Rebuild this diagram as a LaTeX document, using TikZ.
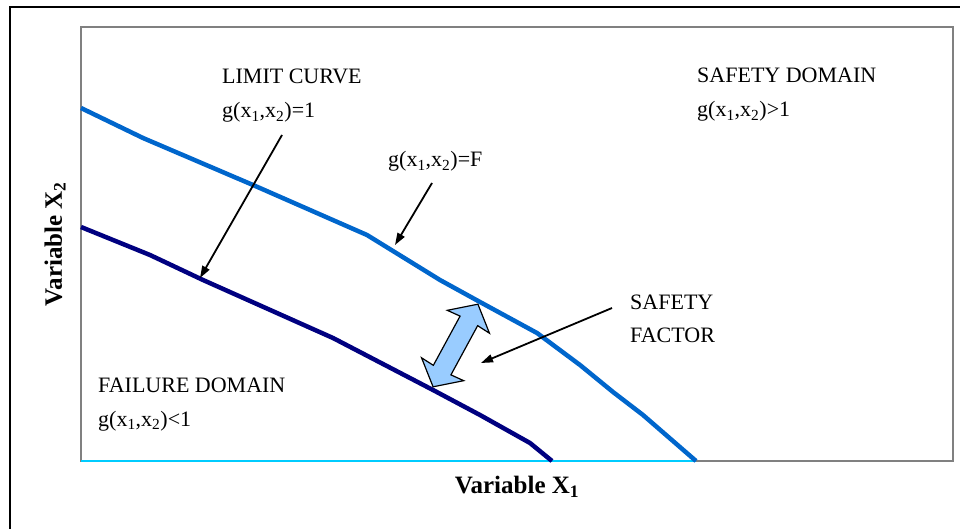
\documentclass[tikz,border=0pt]{standalone}
\usepackage{fontspec}
\setmainfont{Liberation Serif}
\usetikzlibrary{arrows.meta,positioning}
\definecolor{curvelight}{RGB}{0,102,204}
\definecolor{curvedark}{RGB}{0,0,128}
\definecolor{axiscyan}{RGB}{0,204,255}
\definecolor{sfblue}{RGB}{153,204,255}
\definecolor{framegray}{RGB}{128,128,128}
\newcommand{\gfun}{g(x\textsubscript{1},x\textsubscript{2})}

\begin{document}
\begin{tikzpicture}[x=1pt, y=-1pt, >={Triangle[length=12pt,width=8pt]},
  lbl/.style={anchor=base west, inner sep=0pt, font=\fontsize{22}{26}\selectfont},
  axlbl/.style={inner sep=0pt, font=\fontsize{25}{29}\selectfont\bfseries},
  pointer/.style={->, line width=1.8pt},
  curve/.style={line width=4.5pt, line join=round}]
\useasboundingbox (0,0) rectangle (960,529);
% frames
\draw[line width=1.2pt] (10,529) -- (10,7) -- (960,7);
\draw[framegray, line width=1.5pt] (81,27) rectangle (953,461);
\draw[axiscyan, line width=1.5pt] (81,461) -- (696,461);
% curves
\draw[curve, curvelight] (81,108) -- (143,138) -- (253,185) -- (367,235) -- (440,280)
  -- (480,302) -- (537,333) -- (580,365) -- (613,392) -- (643,415) -- (696,461);
\draw[curve, curvedark] (81,227) -- (150,255) -- (203,280) -- (333,338) -- (433,390)
  -- (480,415) -- (530,443) -- (552,461);
% axis titles
\node[axlbl] (xlab) at (517,487) {Variable X\textsubscript{1}};
\node[axlbl, rotate=90] (ylab) at (55,244) {Variable X\textsubscript{2}};
% labels
\node[lbl] (limit) at (222,84) {LIMIT CURVE};
\node[lbl] (limiteq) at (222,118) {\gfun=1};
\node[lbl] (feq) at (388,167) {\gfun=F};
\node[lbl] (safe) at (697,83) {SAFETY DOMAIN};
\node[lbl] (safeeq) at (697,117) {\gfun>1};
\node[lbl] (sf1) at (630,309) {SAFETY};
\node[lbl] (sf2) at (630,342) {FACTOR};
\node[lbl] (fail) at (98,392) {FAILURE DOMAIN};
\node[lbl] (faileq) at (98,426) {\gfun<1};
% safety factor double arrow
\begin{scope}[shift={(455.5,345.5)}, rotate=61.5]
\draw[fill=sfblue, line width=1.2pt, line join=miter]
  (47,0) -- (27,24) -- (28,10) -- (-28,10) -- (-27,24) -- (-47,0)
  -- (-27,-24) -- (-28,-10) -- (28,-10) -- (27,-24) -- cycle;
\end{scope}
% pointers
\coordinate (limfrom) at (282,135);
\coordinate (limto) at (200,278);
\coordinate (ffrom) at (432,183);
\coordinate (fto) at (395,245);
\coordinate (sffrom) at (612,308);
\coordinate (sfto) at (481,363);
\draw[pointer] (limfrom) -- (limto);
\draw[pointer] (ffrom) -- (fto);
\draw[pointer] (sffrom) -- (sfto);
\end{tikzpicture}
\end{document}
